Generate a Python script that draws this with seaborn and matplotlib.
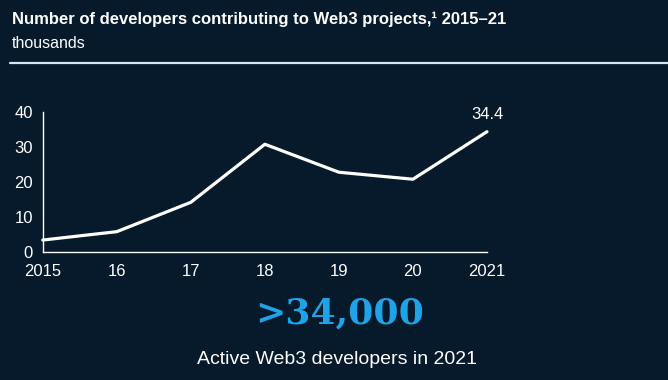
import numpy as np
import pandas as pd
import seaborn as sns
import matplotlib.pyplot as plt

# data
years = [2015, 2016, 2017, 2018, 2019, 2020, 2021]
year_labels = ["2015", "16", "17", "18", "19", "20", "2021"]
developers = [3.4, 5.8, 14.2, 30.8, 22.8, 20.8, 34.4]
y_ticks = [0, 10, 20, 30, 40]

bg = "#061a2c"
sns.set_theme(style="white")
plt.rcParams['font.family'] = ['Liberation Sans', 'DejaVu Sans']

df = pd.DataFrame({"year": years, "developers": developers})

fig = plt.figure(figsize=(6.68, 3.8), dpi=100, facecolor=bg)
ax = fig.add_axes([0.064, 0.337, 0.665, 0.368])
ax.set_facecolor(bg)

sns.lineplot(data=df, x="year", y="developers", color="white", linewidth=2.3, ax=ax)
for line in ax.lines:
    line.set_clip_on(False)

ax.set_xlim(2015, 2021)
ax.set_ylim(0, 40)
ax.set_xticks(years)
ax.set_xticklabels(year_labels)
ax.set_yticks(y_ticks)
ax.set_xlabel("")
ax.set_ylabel("")
ax.tick_params(colors="white", labelsize=12, length=0)
ax.tick_params(axis="x", pad=9)
ax.tick_params(axis="y", pad=7)
for side in ["top", "right"]:
    ax.spines[side].set_visible(False)
for side in ["left", "bottom"]:
    ax.spines[side].set_color("white")
    ax.spines[side].set_linewidth(1)

# label at last point
ax.annotate(f"{developers[-1]}", (years[-1], developers[-1]), xytext=(0, 7),
            textcoords="offset points", ha="center", va="bottom",
            color="white", fontsize=12)

# title block
fig.text(12 / 668, 1 - 19 / 380, "Number of developers contributing to Web3 projects,\u00b9 2015\u201321",
         color="white", fontsize=12, fontweight="bold", va="center", ha="left")
fig.text(12 / 668, 1 - 44 / 380, "thousands", color="white", fontsize=11.5, va="center", ha="left")
fig.add_artist(plt.Line2D([10 / 668, 1], [1 - 63 / 380, 1 - 63 / 380], color="#d4e6f4",
                          linewidth=1.6, transform=fig.transFigure))

# callout
fig.text(340 / 668, 1 - 314 / 380, ">34,000", color="#1fa3e8", fontsize=26, fontweight="bold",
         family=['DejaVu Serif'], ha="center", va="center")
fig.text(337 / 668, 1 - 359 / 380, "Active Web3 developers in 2021", color="white", fontsize=14,
         ha="center", va="center")

fig.savefig("out.png", dpi=100, facecolor=bg)
